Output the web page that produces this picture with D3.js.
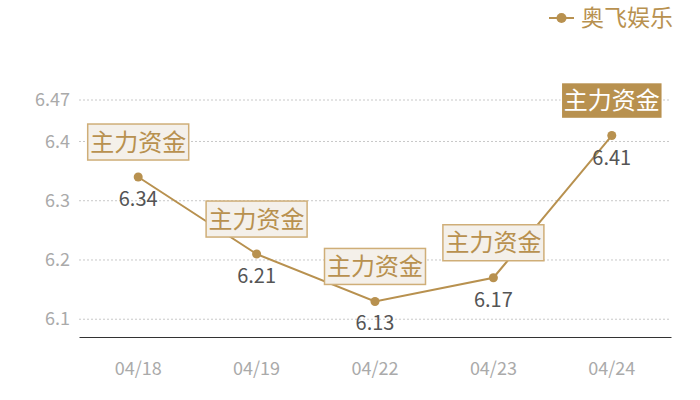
<!DOCTYPE html>
<html>
<head>
<meta charset="utf-8">
<script src="https://cdn.jsdelivr.net/npm/d3@7"></script>
<style>
  body { margin: 0; background: #fff; }
  text { font-family: "Noto Sans CJK SC", "Noto Sans", sans-serif; }
</style>
</head>
<body>
<div id="chart"></div>
<script>
const dates = ["04/18", "04/19", "04/22", "04/23", "04/24"];
const prices = [6.34, 6.21, 6.13, 6.17, 6.41];
const yTicks = [6.1, 6.2, 6.3, 6.4, 6.47];
const noteText = "主力资金";
const seriesName = "奥飞娱乐";

const gold = "#b8914f";
const W = 700, H = 400;
const margin = { top: 100, right: 29, bottom: 63, left: 79 };

const svg = d3.select("#chart").append("svg")
    .attr("width", W).attr("height", H);

const x = d3.scaleBand()
    .domain(dates)
    .range([margin.left, W - margin.right]);

const y = d3.scaleLinear()
    .domain([6.07, 6.47])
    .range([H - margin.bottom, margin.top]);

const cx = d => x(d) + x.bandwidth() / 2;

// grid lines
svg.append("g")
    .selectAll("line")
    .data(yTicks)
    .enter().append("line")
    .attr("x1", margin.left).attr("x2", W - margin.right)
    .attr("y1", d => y(d)).attr("y2", d => y(d))
    .attr("stroke", "#c8c8c8")
    .attr("stroke-dasharray", "2,2");

// y axis labels
const yAxis = svg.append("g")
    .attr("transform", `translate(${margin.left},0)`)
    .call(d3.axisLeft(y).tickValues(yTicks).tickSize(0).tickPadding(9).tickFormat(d3.format("")));
yAxis.select(".domain").remove();
yAxis.selectAll("text")
    .style("font-size", "18px")
    .style("fill", "#aaa");

// x axis
const xAxis = svg.append("g")
    .attr("transform", `translate(0,${H - margin.bottom})`)
    .call(d3.axisBottom(x).tickSize(0).tickPadding(25));
xAxis.select(".domain").attr("stroke", "#333");
xAxis.selectAll("text")
    .style("font-size", "18px")
    .style("fill", "#aaa");

// line
const line = d3.line()
    .x((d, i) => cx(dates[i]))
    .y(d => y(d));

svg.append("path")
    .datum(prices)
    .attr("fill", "none")
    .attr("stroke", gold)
    .attr("stroke-width", 2)
    .attr("d", line);

svg.selectAll(".dot")
    .data(prices)
    .enter().append("circle")
    .attr("class", "dot")
    .attr("cx", (d, i) => cx(dates[i]))
    .attr("cy", d => y(d))
    .attr("r", 4.5)
    .attr("fill", gold);

// value labels
svg.selectAll(".val")
    .data(prices)
    .enter().append("text")
    .attr("class", "val")
    .attr("x", (d, i) => cx(dates[i]))
    .attr("y", d => y(d) + 29)
    .attr("text-anchor", "middle")
    .style("font-size", "20px")
    .style("fill", "#555")
    .text(d => d3.format(".2f")(d));

// annotation boxes
const boxW = 101, boxH = 36;
const notes = svg.selectAll(".note")
    .data(prices)
    .enter().append("g")
    .attr("class", "note")
    .attr("transform", (d, i) => `translate(${cx(dates[i])},${y(d) - 17 - boxH / 2})`);

notes.append("rect")
    .attr("x", -boxW / 2).attr("y", -boxH / 2)
    .attr("width", boxW).attr("height", boxH)
    .attr("fill", (d, i) => i === prices.length - 1 ? gold : "#f4f0ea")
    .attr("stroke", (d, i) => i === prices.length - 1 ? "#fff" : "#cfae78")
    .attr("stroke-width", 1.5);

notes.append("text")
    .attr("text-anchor", "middle")
    .attr("dy", "0.36em")
    .style("font-size", "24px")
    .style("fill", (d, i) => i === prices.length - 1 ? "#fff" : gold)
    .text(noteText);

// legend
const legend = svg.append("g").attr("transform", "translate(549,18)");
legend.append("line")
    .attr("x1", 0).attr("x2", 25)
    .attr("stroke", gold).attr("stroke-width", 2);
legend.append("circle")
    .attr("cx", 12.5).attr("r", 5)
    .attr("fill", gold);
legend.append("text")
    .attr("x", 32)
    .attr("dy", "0.36em")
    .style("font-size", "23px")
    .style("fill", gold)
    .text(seriesName);
</script>
</body>
</html>
